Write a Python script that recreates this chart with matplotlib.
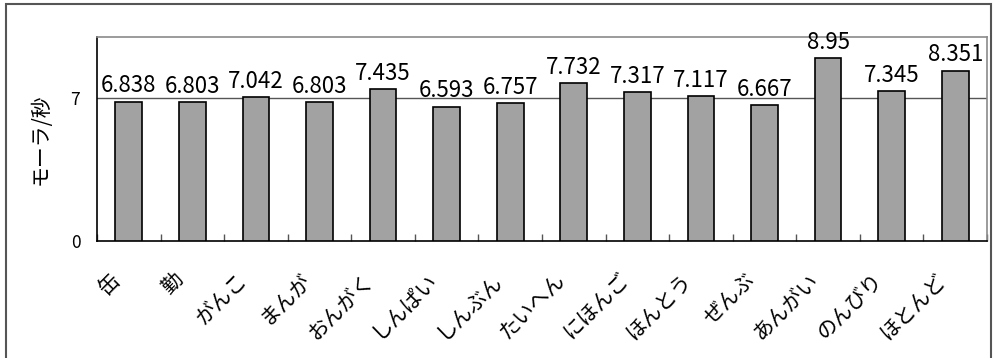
import matplotlib
matplotlib.use("Agg")
import matplotlib.pyplot as plt
import matplotlib.transforms as mtransforms
from matplotlib.patches import Rectangle
import numpy as np

plt.rcParams['font.family'] = ['Noto Sans CJK JP', 'DejaVu Sans']

categories = ["缶", "勤", "がんこ", "まんが", "おんがく", "しんぱい", "しんぶん",
              "たいへん", "にほんご", "ほんとう", "ぜんぶ", "あんがい", "のんびり", "ほとんど"]
values = [6.838, 6.803, 7.042, 6.803, 7.435, 6.593, 6.757,
          7.732, 7.317, 7.117, 6.667, 8.95, 7.345, 8.351]
value_labels = ["6.838", "6.803", "7.042", "6.803", "7.435", "6.593", "6.757",
                "7.732", "7.317", "7.117", "6.667", "8.95", "7.345", "8.351"]
y_ticks = [0, 7]
y_label = "モーラ/秒"

W, H = 999, 358
fig = plt.figure(figsize=(W / 100, H / 100), dpi=100)
fig.patch.set_facecolor('white')

# outer frame
fig.patches.append(Rectangle((6 / W, -0.05), (991 - 6) / W, (H - 4) / H + 0.05,
                             transform=fig.transFigure, fill=False,
                             edgecolor='#555555', linewidth=1.5))

ax = fig.add_axes([97 / W, (H - 241) / H, (987 - 97) / W, (241 - 37) / H])
x = np.arange(len(categories))
ax.bar(x, values, width=0.42, color='#a2a2a2', edgecolor='black', linewidth=1.2, zorder=3)
ax.axhline(7, color='#555555', linewidth=1.0, zorder=2)

for xi, v, lab in zip(x, values, value_labels):
    ax.annotate(lab, (xi, v), xytext=(0, 3), textcoords='offset points',
                ha='center', va='bottom', fontsize=16, color='black',
                annotation_clip=False, clip_on=False, zorder=4)

ax.set_xlim(-0.5, len(categories) - 0.5)
ax.set_ylim(0, 10)
ax.set_yticks(y_ticks)
ax.set_yticklabels([str(t) for t in y_ticks], fontsize=12.5)
ax.tick_params(axis='y', length=0, pad=12)

ax.set_xticks(x)
ax.set_xticklabels(categories, rotation=45, ha='right', va='top',
                   rotation_mode='anchor', fontsize=15)
ax.tick_params(axis='x', which='major', length=0, pad=20)
shift = mtransforms.ScaledTranslation(-20 / 100, 0, fig.dpi_scale_trans)
for lbl in ax.get_xticklabels():
    lbl.set_transform(lbl.get_transform() + shift)
ax.set_xticks(np.arange(len(categories) + 1) - 0.5, minor=True)
ax.tick_params(axis='x', which='minor', direction='in', length=5, width=1, color='#555555')

ax.set_ylabel(y_label, fontsize=15, labelpad=14)

for s in ['top', 'right']:
    ax.spines[s].set_color('#8a8a8a')
    ax.spines[s].set_linewidth(1.2)
for s in ['left', 'bottom']:
    ax.spines[s].set_color('black')
    ax.spines[s].set_linewidth(1.2)

fig.savefig("out.png", dpi=100)
